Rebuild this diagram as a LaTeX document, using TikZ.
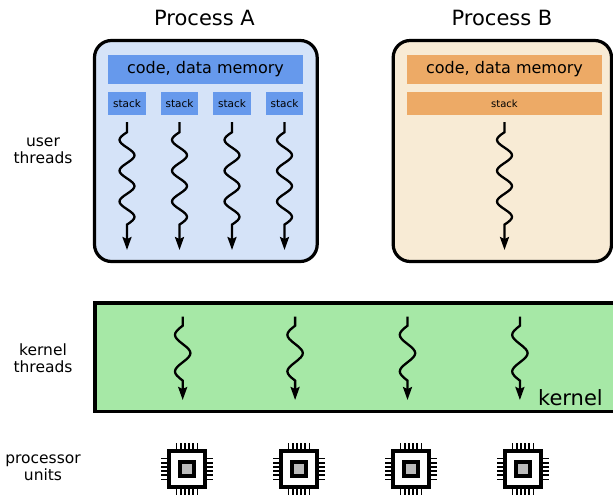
\documentclass[tikz,border=0pt]{standalone}
\usepackage{fontspec}
\setmainfont{DejaVu Sans}
\usetikzlibrary{arrows.meta}
\definecolor{Abg}{RGB}{213,227,248}
\definecolor{Amem}{RGB}{102,153,236}
\definecolor{Bbg}{RGB}{248,235,213}
\definecolor{Bmem}{RGB}{237,170,102}
\definecolor{Kbg}{RGB}{166,232,166}
\definecolor{Cgray}{RGB}{187,187,187}

\begin{document}
\begin{tikzpicture}[x=1pt,y=-1pt,
  proc/.style={draw,line width=3.2pt,rounded corners=17pt,inner sep=0pt},
  mem/.style={inner sep=0pt,minimum height=29pt,minimum width=195pt,font=\fontsize{16}{19}\selectfont},
  stackbox/.style={inner sep=0pt,minimum height=22.7pt},
  thread/.style={line width=2.3pt,-{Stealth[length=13pt,width=9pt,inset=2pt]}},
  side/.style={align=center,font=\fontsize{15.5}{16.5}\selectfont},
  title/.style={anchor=base,inner sep=0pt,font=\fontsize{21}{24}\selectfont},
  chip/.style={draw,line width=4.2pt,fill=white,minimum size=36pt,inner sep=0pt},
  core/.style={draw,line width=3.2pt,fill=Cgray,minimum size=14pt,inner sep=0pt},
  pin/.style={line width=1.8pt}]

  \useasboundingbox (0,0) rectangle (613,495);

  % Process A with four user threads.
  \node[proc,fill=Abg,minimum width=222.7pt,minimum height=221pt] (procA) at (205.85,151) {};
  \node[title] (titleA) at (204.5,26) {Process A};
  \node[mem,fill=Amem] (memA) at (205.5,69.5) {code, data memory};
  \foreach \i in {1,...,4} {
    \node[stackbox,fill=Amem,minimum width=37.7pt,font=\fontsize{10.5}{12}\selectfont] (stA\i) at ({127+52.5*(\i-1)},103.35) {stack};
    \coordinate (uendA\i) at ({127+52.5*(\i-1)},250);
    \draw[thread] (stA\i.south) ++(0,7.3) -- ++(0,10)
      \foreach \s in {-1,1,-1,1,-1,1} { .. controls +({\s*10},6.5) and +({\s*10},-6.5) .. ++(0,15.4) }
      -- (uendA\i);
  }

  % Process B with one user thread.
  \node[proc,fill=Bbg,minimum width=218.3pt,minimum height=221pt] (procB) at (502.35,151) {};
  \node[title] (titleB) at (502,26) {Process B};
  \node[mem,fill=Bmem] (memB) at (504.5,69.5) {code, data memory};
  \node[stackbox,fill=Bmem,minimum width=195pt,font=\fontsize{10}{12}\selectfont] (stB) at (504.5,103.35) {stack};
  \coordinate (uendB) at (504.5,250);
  \draw[thread] (stB.south) ++(0,7.3) -- ++(0,10)
    \foreach \s in {-1,1,-1,1,-1,1} { .. controls +({\s*10},6.5) and +({\s*10},-6.5) .. ++(0,15.4) }
    -- (uendB);

  % Kernel threads.
  \node[draw,line width=3.5pt,fill=Kbg,minimum width=560pt,minimum height=108.5pt,inner sep=0pt] (kernel) at (374.75,357) {};
  \node[title,anchor=base east] (klabel) at (603,405) {kernel};
  \foreach \i in {1,...,4} {
    \coordinate (kstart\i) at ({182.7+112.4*(\i-1)},316.7);
    \coordinate (kend\i) at ({182.7+112.4*(\i-1)},400);
    \draw[thread] (kstart\i) -- ++(0,9)
      \foreach \s in {-1,1,-1} { .. controls +({\s*10.3},7.8) and +({\s*10.3},-7.8) .. ++(0,18.3) }
      -- (kend\i);
  }

  % Row labels.
  \node[side] (lblUser) at (43,151) {user\\threads};
  \node[side] (lblKernel) at (43,358) {kernel\\threads};
  \node[side] (lblCpu) at (43,468) {processor\\units};

  % Processor units.
  \foreach \i in {1,...,4} {
    \node[chip] (cpu\i) at ({187+112*(\i-1)},469) {};
    \node[core] (core\i) at (cpu\i) {};
    \foreach \p in {-10.5,-6.3,-2.1,2.1,6.3,10.5} {
      \draw[pin] ([xshift=\p pt]cpu\i.north) -- ++(0,-6);
      \draw[pin] ([xshift=\p pt]cpu\i.south) -- ++(0,6);
      \draw[pin] ([yshift=\p pt]cpu\i.west) -- ++(-6,0);
      \draw[pin] ([yshift=\p pt]cpu\i.east) -- ++(6,0);
    }
  }

\end{tikzpicture}
\end{document}
